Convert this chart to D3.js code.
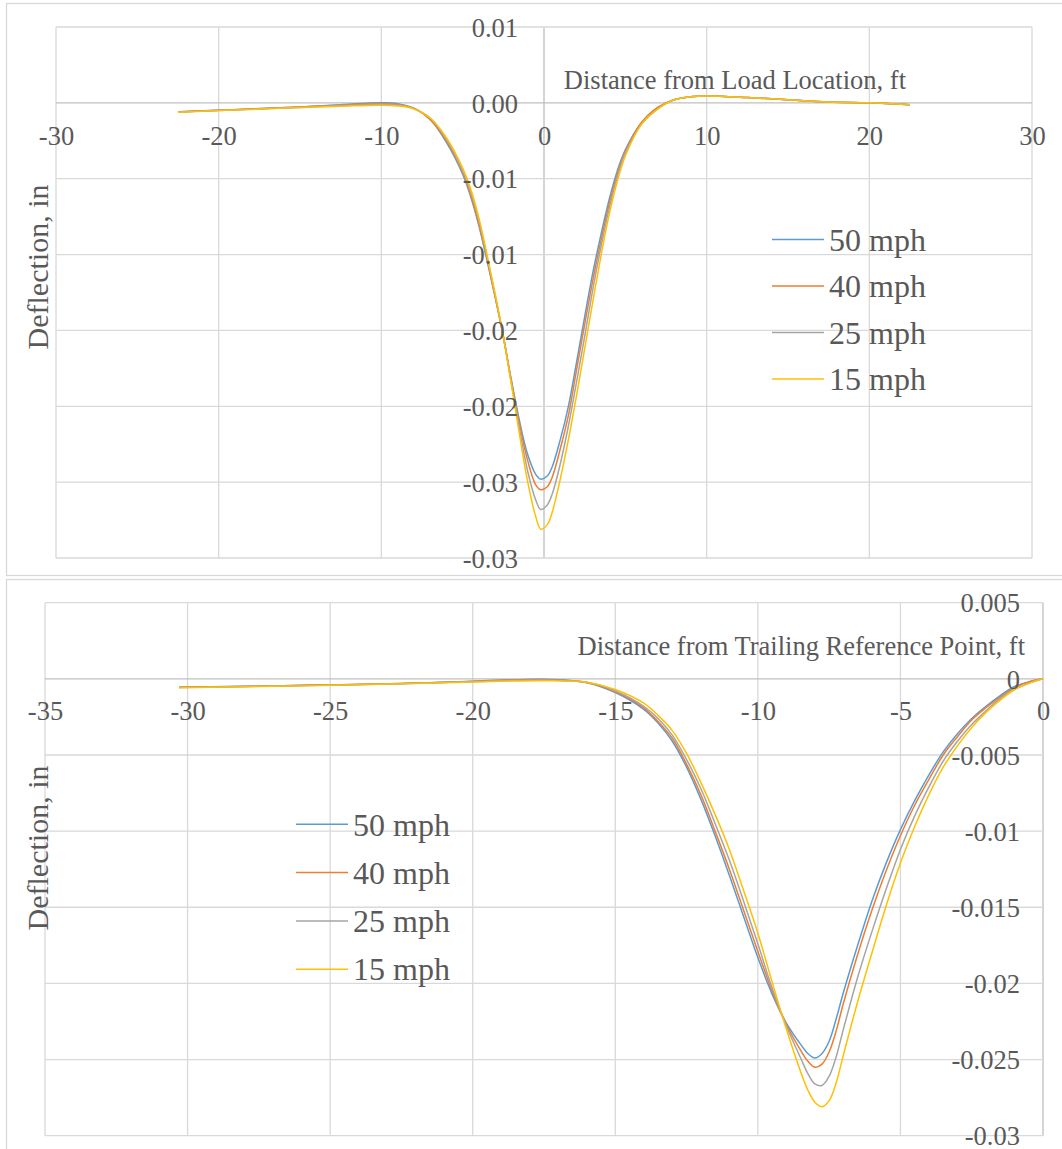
<!DOCTYPE html>
<meta charset="utf-8">
<html>
  <head>
    <script src="https://d3js.org/d3.v7.min.js"></script>
    <style>
      body { margin: 0; background: #fff; }
      text { font-family: "Liberation Serif", "Times New Roman", serif; fill: #595959; }
    </style>
  </head>
  <body>
    <div id="chart"></div>
    <script>
      var speeds = ["50 mph", "40 mph", "25 mph", "15 mph"];
      var colors = ["#5b9bd5", "#ed7d31", "#a5a5a5", "#ffc000"];

      // --- top panel: distance from load location, ft ---
      var loadDist = [-22.5, -20, -17.5, -15, -12.5, -10, -9, -8, -7, -6, -5, -4.5, -4, -3.5, -3, -2.5, -2, -1.5, -1, -0.5, -0.2,
                      0.2, 0.5, 1, 1.5, 2, 2.5, 3, 3.5, 4, 4.5, 5, 6, 7, 8, 9, 10, 12.5, 15, 17.5, 20, 22.5];
      var load50 = [-0.00059, -0.00048, -0.00038, -0.00027, -0.00012, 0.0, -0.00005, -0.00035, -0.0011, -0.0026, -0.0047, -0.0062, -0.0081, -0.0104, -0.0128, -0.0154, -0.0183, -0.0210, -0.0232, -0.0245, -0.0248,
                    -0.0246, -0.0240, -0.0222, -0.0200, -0.0171, -0.0141, -0.0112, -0.0087, -0.0064, -0.0045, -0.0031, -0.0013, -0.0003, 0.0002, 0.0004, 0.00045, 0.00035, 0.0002, 0.00006, 0.0, -0.00012];
      var load40 = [-0.0006, -0.00049, -0.00039, -0.00028, -0.00015, -0.00004, -0.0001, -0.00036, -0.0011, -0.0025, -0.0046, -0.0061, -0.0080, -0.0103, -0.0128, -0.0154, -0.0184, -0.0212, -0.0236, -0.0252, -0.0255,
                    -0.0253, -0.0247, -0.0228, -0.0206, -0.0176, -0.0146, -0.0117, -0.0091, -0.0067, -0.0047, -0.0032, -0.0013, -0.0003, 0.0002, 0.0004, 0.00045, 0.00035, 0.0002, 0.00006, 0.0, -0.00012];
      var load25 = [-0.00061, -0.0005, -0.0004, -0.0003, -0.00018, -0.00009, -0.00014, -0.00038, -0.0010, -0.0024, -0.0045, -0.0059, -0.0078, -0.0102, -0.0127, -0.0154, -0.0185, -0.0215, -0.0243, -0.0262, -0.0268,
                    -0.0265, -0.0258, -0.0238, -0.0213, -0.0184, -0.0154, -0.0123, -0.0095, -0.0070, -0.0049, -0.0033, -0.0014, -0.0004, 0.0002, 0.0004, 0.00045, 0.00035, 0.0002, 0.00006, 0.0, -0.00012];
      var load15 = [-0.00062, -0.00051, -0.00041, -0.00031, -0.00022, -0.00015, -0.0002, -0.0004, -0.0010, -0.0023, -0.0043, -0.0057, -0.0076, -0.0100, -0.0126, -0.0154, -0.0186, -0.0219, -0.0250, -0.0273, -0.0281,
                    -0.0278, -0.0270, -0.0248, -0.0222, -0.0193, -0.0162, -0.0131, -0.0101, -0.0074, -0.0052, -0.0035, -0.0014, -0.0004, 0.0002, 0.0004, 0.00045, 0.00035, 0.0002, 0.00006, 0.0, -0.00012];

      // --- bottom panel: distance from trailing reference point, ft ---
      var trailDist = [-30.3, -27.5, -25, -22.5, -20, -17.5, -16, -15, -14, -13.5, -13, -12.5, -12, -11.5, -11, -10.5, -10, -9.5, -9, -8.5,
                       -8.25, -8, -7.75, -7.5, -7.25, -7, -6.5, -6, -5.5, -5, -4.5, -4, -3.5, -3, -2.5, -2, -1.5, -1, -0.5, 0];
      var trail50 = [-0.00055, -0.00048, -0.0004, -0.0003, -0.00016, -0.00003, -0.00025, -0.0009, -0.0020, -0.0029, -0.0041, -0.0058, -0.0079, -0.0103, -0.0129, -0.0156, -0.0183, -0.0207, -0.0226, -0.0240,
                     -0.0246, -0.0249, -0.0246, -0.0238, -0.0223, -0.0206, -0.0175, -0.0146, -0.0121, -0.0099, -0.0080, -0.0063, -0.0048, -0.0036, -0.0026, -0.0018, -0.0011, -0.0005, -0.0002, 0];
      var trail40 = [-0.00056, -0.00048, -0.0004, -0.00031, -0.00017, -0.00005, -0.00024, -0.00085, -0.0019, -0.0028, -0.0039, -0.0056, -0.0076, -0.0100, -0.0125, -0.0152, -0.0179, -0.0205, -0.0227, -0.0244,
                     -0.0251, -0.0255, -0.0253, -0.0245, -0.0231, -0.0213, -0.0181, -0.0152, -0.0126, -0.0103, -0.0083, -0.0066, -0.0050, -0.0038, -0.0027, -0.0019, -0.0012, -0.0006, -0.0002, 0];
      var trail25 = [-0.00057, -0.00049, -0.00041, -0.00032, -0.00018, -0.00008, -0.00023, -0.0008, -0.0018, -0.0026, -0.0037, -0.0053, -0.0072, -0.0095, -0.0119, -0.0146, -0.0174, -0.0203, -0.0228, -0.0249,
                     -0.0259, -0.0266, -0.0267, -0.0261, -0.0248, -0.0230, -0.0196, -0.0166, -0.0138, -0.0112, -0.0090, -0.0071, -0.0054, -0.0041, -0.0030, -0.0021, -0.0013, -0.0007, -0.0003, 0];
      var trail15 = [-0.00058, -0.0005, -0.00042, -0.00033, -0.0002, -0.00012, -0.00022, -0.0007, -0.0016, -0.0024, -0.0034, -0.0049, -0.0068, -0.0089, -0.0112, -0.0139, -0.0167, -0.0199, -0.0230, -0.0258,
                     -0.0270, -0.0278, -0.0281, -0.0277, -0.0265, -0.0247, -0.0212, -0.0180, -0.0149, -0.0121, -0.0097, -0.0076, -0.0058, -0.0044, -0.0032, -0.0022, -0.0014, -0.0007, -0.0003, 0];

      // axis ticks and labels
      var loadTicks = [-30, -20, -10, 0, 10, 20, 30];
      var trailTicks = [-35, -30, -25, -20, -15, -10, -5, 0];
      var deflTicks = [0.005, 0, -0.005, -0.01, -0.015, -0.02, -0.025, -0.03];
      var loadDeflLabels = ["0.01", "0.00", "-0.01", "-0.01", "-0.02", "-0.02", "-0.03", "-0.03"];
      var trailDeflLabels = ["0.005", "0", "-0.005", "-0.01", "-0.015", "-0.02", "-0.025", "-0.03"];

      var svg = d3.select("#chart").append("svg")
          .attr("width", 1062)
          .attr("height", 1149);

      // chart frames
      svg.append("rect").attr("x", 6.5).attr("y", 3.5).attr("width", 1080).attr("height", 572)
          .attr("fill", "none").attr("stroke", "#d9d9d9").attr("stroke-width", 1.3);
      svg.append("rect").attr("x", 6.5).attr("y", 579.5).attr("width", 1080).attr("height", 600)
          .attr("fill", "none").attr("stroke", "#d9d9d9").attr("stroke-width", 1.3);

      function drawPanel(p) {
        var x = d3.scaleLinear().domain(p.xDomain).range([p.left, p.right]);
        var y = d3.scaleLinear().domain([-0.03, 0.005]).range([p.bottom, p.top]);
        var g = svg.append("g");

        // gridlines (zero lines a bit darker)
        g.append("g").selectAll("line").data(p.xTicks).enter().append("line")
          .attr("x1", function(d) { return x(d); }).attr("x2", function(d) { return x(d); })
          .attr("y1", p.top).attr("y2", p.bottom)
          .attr("stroke", function(d) { return d == 0 ? "#bfbfbf" : "#d9d9d9"; })
          .attr("stroke-width", 1.3);
        g.append("g").selectAll("line").data(deflTicks).enter().append("line")
          .attr("x1", p.left).attr("x2", p.right)
          .attr("y1", function(d) { return y(d); }).attr("y2", function(d) { return y(d); })
          .attr("stroke", function(d) { return d == 0 ? "#bfbfbf" : "#d9d9d9"; })
          .attr("stroke-width", 1.3);

        // series
        var line = d3.line()
          .x(function(d) { return x(d[0]); })
          .y(function(d) { return y(d[1]); })
          .curve(d3.curveCatmullRom);
        p.series.forEach(function(vals, i) {
          g.append("path")
            .datum(p.dist.map(function(d, j) { return [d, vals[j]]; }))
            .attr("fill", "none")
            .attr("stroke", colors[i])
            .attr("stroke-width", 1.5)
            .attr("d", line);
        });

        // x labels sit under the zero line
        var xa = g.append("g")
          .attr("transform", "translate(0," + y(0) + ")")
          .call(d3.axisBottom(x).tickValues(p.xTicks).tickSize(0).tickPadding(p.xPad)
            .tickFormat(function(d) { return String(d); }));
        xa.select(".domain").remove();
        xa.selectAll("text").style("font-size", "26.5px").attr("fill", "#595959").attr("font-family", null);

        // y labels sit left of x = 0
        var ya = g.append("g")
          .attr("transform", "translate(" + x(0) + ",0)")
          .call(d3.axisLeft(y).tickValues(deflTicks).tickSize(0).tickPadding(p.yPad)
            .tickFormat(function(d, i) { return p.yLabels[i]; }));
        ya.select(".domain").remove();
        ya.selectAll("text").style("font-size", "26.5px").attr("dy", "0.35em").attr("fill", "#595959").attr("font-family", null);

        // axis titles
        g.append("text")
          .attr("x", p.xTitleX).attr("y", p.xTitleY)
          .attr("text-anchor", "end")
          .style("font-size", "26.5px")
          .text(p.xTitle);
        g.append("text")
          .attr("transform", "translate(" + 48 + "," + p.yTitleY + ") rotate(-90)")
          .attr("text-anchor", "middle")
          .style("font-size", "30px")
          .text("Deflection, in");

        // legend
        var lg = g.append("g").selectAll("g").data(speeds).enter().append("g")
          .attr("transform", function(d, i) { return "translate(" + p.legX + "," + (p.legY + i * p.legStep) + ")"; });
        lg.append("line").attr("x1", 0).attr("x2", 52).attr("y1", 0).attr("y2", 0)
          .attr("stroke", function(d, i) { return colors[i]; }).attr("stroke-width", 1.5);
        lg.append("text").attr("x", 57).attr("dy", "0.35em")
          .style("font-size", "32px")
          .text(function(d) { return d; });
      }

      drawPanel({
        xDomain: [-30, 30], left: 56, right: 1032, top: 27, bottom: 558,
        dist: loadDist, series: [load50, load40, load25, load15],
        xTicks: loadTicks, yLabels: loadDeflLabels, xPad: 23, yPad: 26,
        xTitle: "Distance from Load Location, ft", xTitleX: 906, xTitleY: 89,
        yTitleY: 267, legX: 772, legY: 239.5, legStep: 46.5
      });

      drawPanel({
        xDomain: [-35, 0], left: 45, right: 1043, top: 602.7, bottom: 1135.7,
        dist: trailDist, series: [trail50, trail40, trail25, trail15],
        xTicks: trailTicks, yLabels: trailDeflLabels, xPad: 22, yPad: 23,
        xTitle: "Distance from Trailing Reference Point, ft", xTitleX: 1025, xTitleY: 655,
        yTitleY: 848, legX: 296, legY: 824.3, legStep: 48.3
      });
    </script>
  </body>
</html>
